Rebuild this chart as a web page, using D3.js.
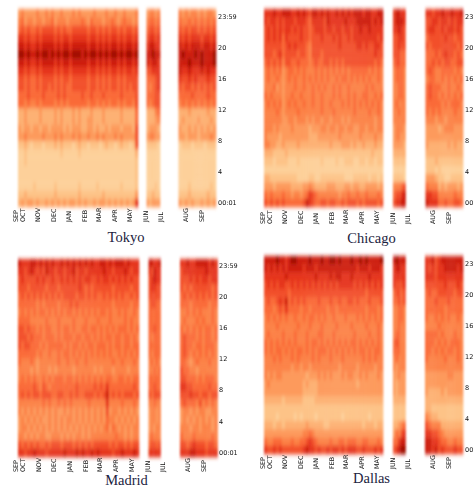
<!DOCTYPE html>
<html>
<head>
<meta charset="utf-8">
<script src="https://cdnjs.cloudflare.com/ajax/libs/d3/7.8.5/d3.min.js"></script>
<style>
  body { margin: 0; background: #fff; }
  svg { display: block; }
  .tick text { font-family: "DejaVu Sans", sans-serif; fill: #111; }
  .city { font-family: "Liberation Serif", serif; font-size: 14.5px; fill: #1c2340; text-anchor: middle; }
</style>
</head>
<body>
<svg id="chart" width="473" height="488"></svg>
<script>
// levels per hour, top row is 23h and bottom row is 00h: sep-may | jun-jul | aug-sep
const tokyoRows = [
  '3433334334 3433433343 4333343334 3343343334 | 34434 | 434344343443',
  '4534434434 4534443444 4543544434 4543454434 | 45545 | 544545454545',
  '5656556566 6656565566 6665665656 5665656656 | 56656 | 656566565656',
  '7767667677 7767677677 7776776767 6776767767 | 67767 | 767677767767',
  '8878778788 8878788788 8887887878 7887878878 | 78877 | 878788878878',
  '9989889899 8989899899 9898998989 8998989989 | 88988 | 898889898889',
  '8878778788 8878788788 8887887878 7887878878 | 87887 | 888988898889',
  '7767667677 7767677677 7776776767 6776767767 | 66777 | 877877787877',
  '6656556566 6656566566 6665665656 5665656666 | 55567 | 766767666766',
  '6656556566 5656565566 6665665656 5665656566 | 54567 | 656656565656',
  '5556555565 5556565555 5655655565 5555655556 | 55566 | 555565555655',
  '5545445455 5545454555 5554554545 4554545546 | 54566 | 454545454545',
  '2232222322 2232322232 3222322232 2222322225 | 22245 | 222322222322',
  '2232222322 2232322232 3223322232 2222322225 | 22234 | 232222322232',
  '3233233233 2333323233 3223323223 2333233326 | 23332 | 322323232323',
  '3343333343 3343433343 4334334343 3343433336 | 34433 | 332333233343',
  '1121011101 1121211101 2110111012 1101211016 | 11110 | 011101110111',
  '0010000000 0000100000 1000000000 0000000002 | 00000 | 000000000000',
  '0010000000 0000000000 0000000000 0000000001 | 00000 | 000000000000',
  '0000000000 0000000000 0000000000 0000000001 | 00000 | 000000000000',
  '0000000000 0000000000 0000000000 0000000001 | 00000 | 000000000000',
  '0000010000 0010000000 1000001000 0000100001 | 00010 | 000100000010',
  '1121111111 1121111111 2111111121 1111111113 | 11211 | 111211111211',
  '2323323223 2323232332 3232232332 3232323237 | 32333 | 323232232323'
];
const chicagoRows = [
  '7778778887 7878768878 7877878787 8887887788 | 78877 | 776778778778',
  '7677676777 6777657777 6877777877 7888887878 | 78887 | 667767767677',
  '6767676776 7676656777 6776776776 7787787777 | 77876 | 677667677676',
  '6767675766 6676656667 6667676676 7777777767 | 66776 | 566666766566',
  '6666665676 7666546666 6666676666 6776766776 | 66766 | 656666666656',
  '6665675666 6566546665 6666666666 6666666766 | 66655 | 555656766565',
  '5656564665 5655545655 6656565666 6666666565 | 56655 | 556565665566',
  '4545453455 4545444545 4545454545 5555545454 | 45554 | 565445555454',
  '4544543454 5445454545 4544545545 4545454454 | 45554 | 455445454545',
  '4445343444 5445445454 5445454454 4444545444 | 44554 | 565554454454',
  '5454443445 4454445445 4445454454 5445544545 | 44554 | 565545454545',
  '4545453454 5445445445 4454445454 5454545454 | 45444 | 555554545554',
  '4444543444 4544444445 4445444444 5444454454 | 44544 | 545454444544',
  '4444443344 3444343443 4434443434 4444444344 | 44444 | 444344344444',
  '4443433334 3333323334 4344344344 3344344344 | 34443 | 333323444333',
  '4333323333 3333322233 3333343333 3343333433 | 34433 | 333333333333',
  '4433223222 2322222222 2232223332 3223222322 | 33332 | 322222232322',
  '2221111211 1111111111 1111111111 1111112111 | 22222 | 222222222222',
  '1110111100 0100000001 0000100111 0011011011 | 11111 | 111211111111',
  '0000000000 0000000000 0000000000 0000000000 | 00000 | 111010000000',
  '2211111111 1000011001 1111111000 1111101101 | 11110 | 333211001111',
  '3332333332 2223343222 2333222332 3322333323 | 44456 | 544423233323',
  '5454445443 4434576544 4444434454 4544544454 | 56678 | 776644444544',
  '6565656555 5556876556 6566556566 6565666656 | 67788 | 877755655665'
];
const madridRows = [
  '8777887878 7877878787 8787877887 8788878777 | 88778 | 778778888787',
  '7767876768 7767767786 7767777787 7677787677 | 76877 | 677777778777',
  '6766667676 6766767676 7677667677 6767676766 | 67877 | 666767677677',
  '6665666665 6665666666 7656566666 6566666566 | 67766 | 656566666656',
  '5656565656 5656566665 6656565565 6565655656 | 66666 | 565656565656',
  '5555554545 5554555656 5555555555 5455555455 | 56655 | 555455555455',
  '4545454554 5454545545 4545454554 5445454454 | 55555 | 445454544454',
  '5555444445 4445444454 4454445444 5444454544 | 55555 | 454445454454',
  '6656554545 5445455454 4554554545 4545554545 | 55655 | 545454545545',
  '6665655545 5545455545 5455454545 5455455454 | 54555 | 565554545545',
  '6566555454 5555545455 4545545554 5455455455 | 55555 | 565545545554',
  '5555554544 5445455454 5454545454 5445454545 | 54555 | 565454545454',
  '5444543444 4445445445 4454444444 4544544454 | 45454 | 554345444544',
  '4444343444 3434444434 4444434344 4344443444 | 44545 | 655443444444',
  '4545454454 5455545545 4545454545 5445545455 | 55555 | 665554545554',
  '5555565465 4555555556 5555565657 5555555565 | 55655 | 776655555655',
  '5656566566 6556655656 5566656568 5656566656 | 65666 | 666766566566',
  '4444444454 5445454544 4445444447 4444544454 | 44544 | 565554645454',
  '4343434343 4343343434 3434343436 3443434343 | 34434 | 344343443344',
  '3434343433 4343434434 3434343435 4434343434 | 34434 | 343434343434',
  '3443434343 4343434343 4343434345 3543434344 | 34344 | 444344344434',
  '4434343443 3444343434 4343444444 4454434344 | 45444 | 544454444454',
  '6565656556 5666566656 5656566666 5656656566 | 56656 | 665676665665',
  '7767787776 7777787778 7877878777 7677877787 | 77777 | 777887776777'
];
const dallasRows = [
  '8888988789 9888898889 8899898889 8898988889 | 89888 | 778678888888',
  '8787878788 8887888788 8888888888 8788878887 | 78877 | 767677888878',
  '7777777877 7777777877 7787887778 7777787777 | 77777 | 777677777777',
  '6767677667 6767676767 6767677777 6767676767 | 76667 | 666666766676',
  '6666666656 6666666666 6666666666 6666566666 | 56656 | 565566666566',
  '5655676856 5656555565 5565565566 5655565556 | 55656 | 555655565555',
  '5554565755 5545545555 5455455555 5555455545 | 44554 | 555555455555',
  '4545454544 5445455454 5445444544 4545454545 | 44554 | 544545454454',
  '4444544444 4544454445 4444544445 4444544454 | 44544 | 444454444444',
  '4544445444 5444544455 4445444444 5444454454 | 45544 | 555545444544',
  '5454545454 5444545545 4545454545 5454545454 | 56544 | 555454545554',
  '5454554545 4554545455 5454545454 5455454554 | 55544 | 554545455454',
  '4445454445 4544445454 4454445444 4445454544 | 45444 | 544444544454',
  '4444444443 4434434444 4444434444 4344444344 | 43444 | 444444444444',
  '4343443333 3333233343 4343334344 3343433343 | 33433 | 333333344333',
  '3433333333 3332322233 3333333333 3233333333 | 32333 | 333333333333',
  '3333333333 3332222233 3333333333 3333333333 | 32333 | 322223233333',
  '2222221222 2221111222 2222222222 2222222222 | 22222 | 222222222222',
  '1111111111 1111111111 1111111111 1111111111 | 11111 | 221111111111',
  '1111011111 0101111011 1111110111 1111101111 | 11111 | 432211111111',
  '2221221222 2222322222 1122222222 2221222122 | 22345 | 654442222222',
  '3333333333 3334454333 3333333333 3333333333 | 35467 | 776654333333',
  '5445554445 4455676544 4454455455 5445544454 | 55788 | 887765544544',
  '7667676666 6667877676 6767767677 7667666767 | 67899 | 887867666766'
];

const hours = d3.range(23, -1, -1);
const monthLabels = ['SEP', 'OCT', 'NOV', 'DEC', 'JAN', 'FEB', 'MAR', 'APR', 'MAY', 'JUN', 'JUL', 'AUG', 'SEP'];
const monthDays = [0, 15, 45, 75, 106, 137, 165, 196, 226, 257, 287, 335, 366];
const hourTicks = [0, 4, 8, 12, 16, 20, 24];
const hourLabelsLeft = ['00:01', '4', '8', '12', '16', '20', '23:59'];
const hourLabelsRight = ['00', '4', '8', '12', '16', '20', '23'];
const levelColors = ['#fdd09a', '#fdc387', '#fdb072', '#fd9a5c', '#fc8246', '#fa6b38', '#f2502a', '#e5341d', '#cd1f10', '#a00c06'];

const color = d3.scaleLinear().domain(d3.range(10)).range(levelColors);

const svg = d3.select('#chart');
const defs = svg.append('defs');
defs.append('filter').attr('id', 'soft').attr('x', '-5%').attr('y', '-5%').attr('width', '110%').attr('height', '110%')
  .append('feGaussianBlur').attr('stdDeviation', '0.8 2.2');
defs.append('filter').attr('id', 'softText')
  .append('feGaussianBlur').attr('stdDeviation', 0.35);

const cities = [
  { name: 'Tokyo', rows: tokyoRows, top: 9, bottom: 207, panels: [[18, 138], [146.5, 160], [178.5, 216]],
    months: [15, 201], monthY: 209, hourX: 218, hourY: [202.5, 16.5], hourLabels: hourLabelsLeft, nameX: 126, nameY: 242 },
  { name: 'Chicago', rows: chicagoRows, top: 9, bottom: 207, panels: [[264, 383], [393, 405.5], [425.5, 463]],
    months: [262, 448], monthY: 211, hourX: 465, hourY: [202.5, 16.5], hourLabels: hourLabelsRight, nameX: 371.5, nameY: 243 },
  { name: 'Madrid', rows: madridRows, top: 259, bottom: 457, panels: [[18, 139], [148.5, 160.5], [180, 217.5]],
    months: [15, 203], monthY: 459, hourX: 219, hourY: [452, 265.5], hourLabels: hourLabelsLeft, nameX: 126.5, nameY: 485 },
  { name: 'Dallas', rows: dallasRows, top: 256, bottom: 454, panels: [[264, 383], [393, 405.5], [425, 463]],
    months: [262, 448], monthY: 456, hourX: 465, hourY: [449, 263], hourLabels: hourLabelsRight, nameX: 371.5, nameY: 483 }
];

cities.forEach(city => {
  const y = d3.scaleBand().domain(hours).range([city.top, city.bottom]);
  const g = svg.append('g').attr('filter', 'url(#soft)');

  city.panels.forEach((extent, p) => {
    const cols = city.rows.map(r => r.split('|')[p].replace(/ /g, ''));
    const x = d3.scaleBand().domain(d3.range(cols[0].length)).range(extent);
    const cells = [];
    cols.forEach((col, r) => {
      col.split('').forEach((v, c) => cells.push({ hour: hours[r], col: c, level: +v }));
    });
    g.append('g').selectAll('rect')
      .data(cells)
      .join('rect')
      .attr('x', d => x(d.col))
      .attr('y', d => y(d.hour))
      .attr('width', x.bandwidth() + 0.3)
      .attr('height', y.bandwidth() + 0.3)
      .attr('fill', d => color(d.level));
  });

  const labels = svg.append('g').attr('filter', 'url(#softText)');

  const xMonth = d3.scaleLinear().domain([0, 366]).range(city.months);
  const monthAxis = d3.axisBottom(xMonth)
    .tickValues(monthDays)
    .tickSize(0)
    .tickFormat((d, i) => monthLabels[i]);
  labels.append('g')
    .attr('transform', `translate(0,${city.monthY})`)
    .call(monthAxis)
    .call(a => a.select('.domain').remove())
    .selectAll('text')
    .attr('font-size', 6.4)
    .attr('dy', 0)
    .attr('y', 0)
    .attr('x', 0)
    .style('text-anchor', 'start')
    .attr('transform', 'translate(2,13) rotate(-90)');

  const yHour = d3.scaleLinear().domain([0, 24]).range(city.hourY);
  const hourAxis = d3.axisRight(yHour)
    .tickValues(hourTicks)
    .tickSize(0)
    .tickPadding(0)
    .tickFormat((d, i) => city.hourLabels[i]);
  labels.append('g')
    .attr('transform', `translate(${city.hourX},0)`)
    .call(hourAxis)
    .call(a => a.select('.domain').remove())
    .selectAll('text')
    .attr('font-size', 6.5);

  svg.append('text')
    .attr('class', 'city')
    .attr('x', city.nameX)
    .attr('y', city.nameY)
    .text(city.name);
});
</script>
</body>
</html>
